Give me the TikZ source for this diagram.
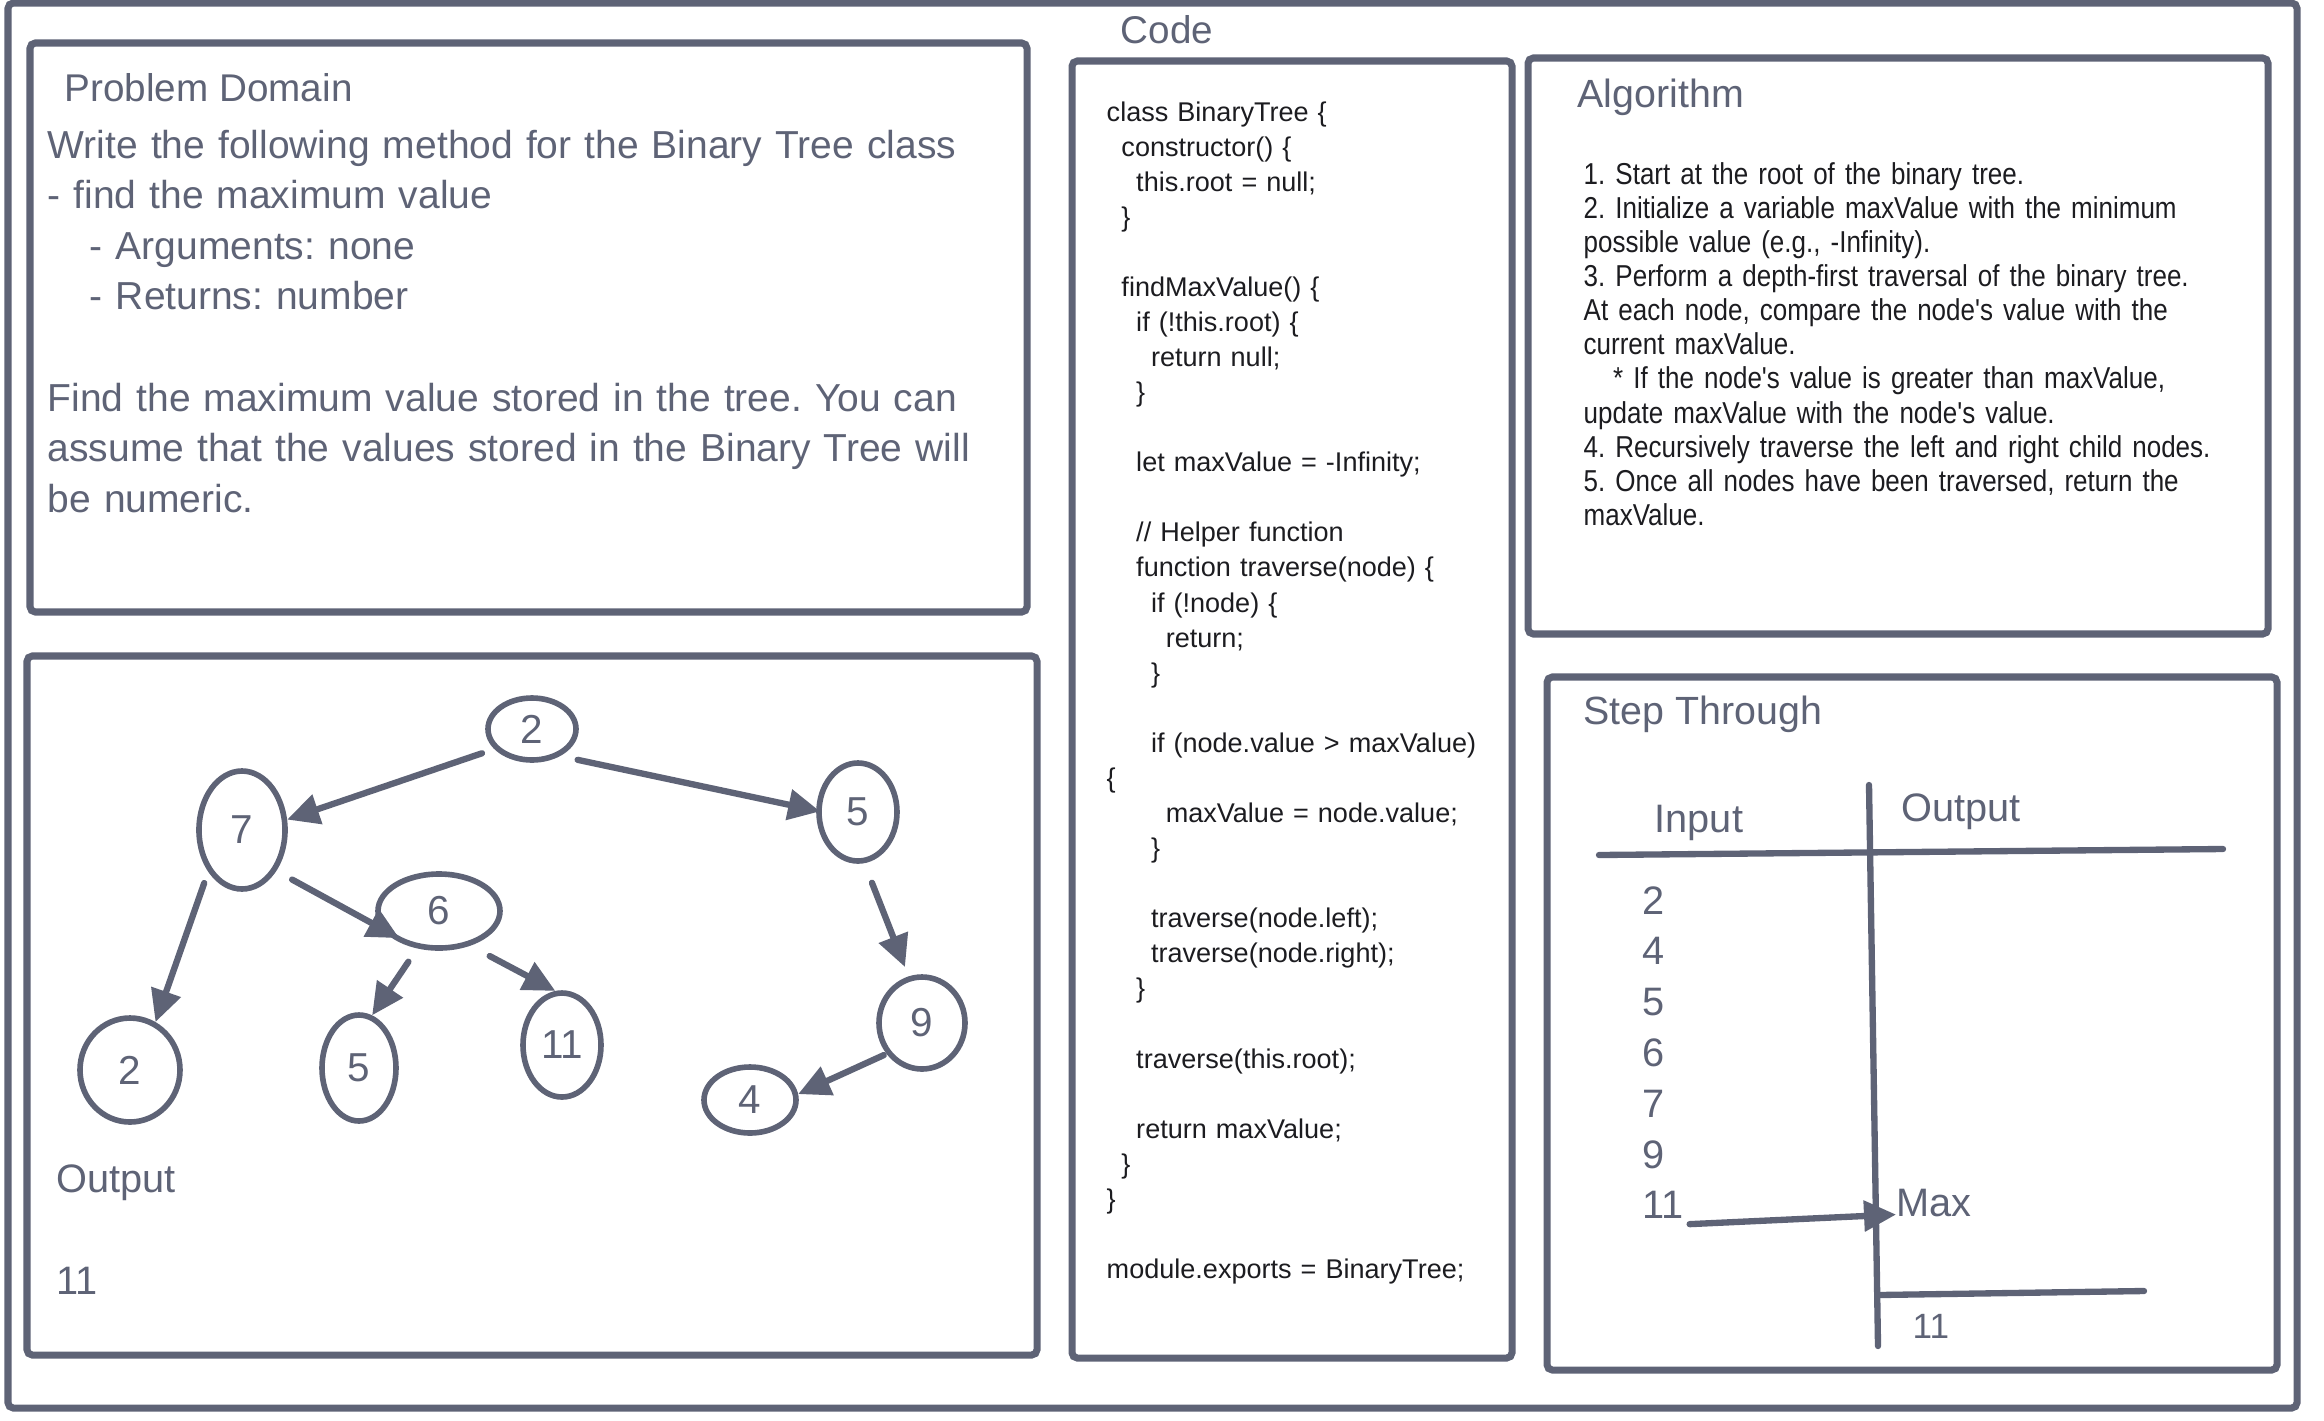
\documentclass[tikz,border=0pt]{standalone}
\usepackage{fontspec}
\setmainfont{Liberation Sans}
\newfontfamily\narrowfont[FakeStretch=0.86]{Liberation Sans}
\usepackage{xcolor}
\usetikzlibrary{arrows.meta,positioning,shapes.geometric}
\definecolor{slate}{RGB}{94,99,118}
\definecolor{ink}{RGB}{28,28,32}
\newlength\indstep
\setlength\indstep{4.2pt}
\newcommand{\ind}[1]{\hspace*{#1\indstep}}
\tikzset{
  panel/.style={draw=slate, line width=2pt, rounded corners=1.5pt},
  head/.style={anchor=base west, inner sep=0pt, text=slate, font=\fontsize{11}{13}\selectfont},
  body/.style={anchor=base west, inner sep=0pt, align=left},
  tnode/.style={ellipse, draw=slate, line width=1.6pt, inner sep=0pt, text=slate,
                font=\fontsize{11.5}{13}\selectfont},
  flow/.style={-{Triangle[length=3.2mm,width=3mm]}, draw=slate, line width=1.8pt, line cap=round},
  rule/.style={draw=slate, line width=1.8pt, line cap=round},
  stepnum/.style={anchor=base west, inner sep=0pt, text=slate, font=\fontsize{11.3}{13}\selectfont},
}
\frenchspacing

\begin{document}
\begin{tikzpicture}
  \useasboundingbox (0,0) rectangle (23.24,-14.20);
  % frames
  \draw[panel] (0.08,-0.03) rectangle (22.97,-14.08);
  \draw[panel] (0.30,-0.43) rectangle (10.27,-6.12);
  \draw[panel] (0.27,-6.56) rectangle (10.37,-13.55);
  \draw[panel] (10.72,-0.61) rectangle (15.12,-13.58);
  \draw[panel] (15.28,-0.58) rectangle (22.68,-6.34);
  \draw[panel] (15.47,-6.77) rectangle (22.77,-13.70);

  % problem domain
  \node[head] (pdtitle) at (0.64,-1.01) {Problem Domain};
  \node[body, text width=9.7cm, text=slate, font=\fontsize{11.1}{14.4}\selectfont] (pdtext) at (0.47,-1.58)
    {Write the following method for the Binary Tree class\\
     - find the maximum value\\
     \hspace*{12pt}- Arguments: none\\
     \hspace*{12pt}- Returns: number\\
     \mbox{}\\
     Find the maximum value stored in the tree. You can\\
     assume that the values stored in the Binary Tree will\\
     be numeric.};

  % code
  \node[head] (codetitle) at (11.20,-0.43) {Code};
  \node[body, text width=4.2cm, text=ink, font=\fontsize{7.7}{9.98}\selectfont] (code) at (11.06,-1.21)
    {class BinaryTree \{\\
     \ind{1}constructor() \{\\
     \ind{2}this.root = null;\\
     \ind{1}\}\\
     \mbox{}\\
     \ind{1}findMaxValue() \{\\
     \ind{2}if (!this.root) \{\\
     \ind{3}return null;\\
     \ind{2}\}\\
     \mbox{}\\
     \ind{2}let maxValue = -Infinity;\\
     \mbox{}\\
     \ind{2}// Helper function\\
     \ind{2}function traverse(node) \{\\
     \ind{3}if (!node) \{\\
     \ind{4}return;\\
     \ind{3}\}\\
     \mbox{}\\
     \ind{3}if (node.value > maxValue)\\
     \{\\
     \ind{4}maxValue = node.value;\\
     \ind{3}\}\\
     \mbox{}\\
     \ind{3}traverse(node.left);\\
     \ind{3}traverse(node.right);\\
     \ind{2}\}\\
     \mbox{}\\
     \ind{2}traverse(this.root);\\
     \mbox{}\\
     \ind{2}return maxValue;\\
     \ind{1}\}\\
     \}\\
     \mbox{}\\
     module.exports = BinaryTree;};

  % algorithm
  \node[head, font=\fontsize{11.2}{13}\selectfont] (algtitle) at (15.77,-1.07) {Algorithm};
  \node[body, text width=6.8cm, text=ink, font=\narrowfont\fontsize{8.6}{9.72}\selectfont] (alg) at (15.83,-1.84)
    {1. Start at the root of the binary tree.\\
     2. Initialize a variable maxValue with the minimum\\
     possible value (e.g., -Infinity).\\
     3. Perform a depth-first traversal of the binary tree.\\
     At each node, compare the node's value with the\\
     current maxValue.\\
     \hspace*{8.4pt}* If the node's value is greater than maxValue,\\
     update maxValue with the node's value.\\
     4. Recursively traverse the left and right child nodes.\\
     5. Once all nodes have been traversed, return the\\
     maxValue.};

  % tree
  \node[tnode, minimum width=0.88cm, minimum height=0.62cm] (r2) at (5.32,-7.29) {2};
  \node[tnode, minimum width=0.86cm, minimum height=1.18cm] (n7) at (2.42,-8.30) {7};
  \node[tnode, minimum width=0.78cm, minimum height=0.98cm] (n5r) at (8.58,-8.12) {5};
  \node[tnode, minimum width=1.22cm, minimum height=0.74cm] (n6) at (4.39,-9.11) {6};
  \node[tnode, minimum width=1.00cm, minimum height=1.04cm] (n2l) at (1.30,-10.70) {2};
  \node[tnode, minimum width=0.74cm, minimum height=1.06cm] (n5l) at (3.59,-10.68) {5};
  \node[tnode, minimum width=0.78cm, minimum height=1.04cm] (n11) at (5.62,-10.45) {11};
  \node[tnode, minimum width=0.86cm, minimum height=0.92cm] (n9) at (9.22,-10.23) {9};
  \node[tnode, minimum width=0.92cm, minimum height=0.66cm] (n4) at (7.50,-11.00) {4};

  \draw[flow, shorten <=1.3mm] (r2.208) -- (n7.13);
  \draw[flow, shorten <=1.8mm, shorten >=-0.4mm] (r2.316) -- (n5r.178);
  \draw[flow, shorten <=1.8mm, shorten >=-2mm] (n7.310) -- (n6.197);
  \draw[flow, shorten <=1.2mm] (n7.231) -- (n2l.62);
  \draw[flow, shorten <=1.6mm] (n6.240) -- (n5l.76);
  \draw[flow, shorten <=2.2mm] (n6.312) -- (n11.97);
  \draw[flow, shorten <=2.1mm, shorten >=1mm] (n5r.277) -- (n9.106);
  \draw[flow, shorten <=0.3mm] (n9.221) -- (n4.7);

  \node[stepnum] (treeout) at (0.56,-11.92) {Output};
  \node[stepnum] (treeval) at (0.56,-12.94) {11};

  % step through
  \node[head, font=\fontsize{11.2}{13}\selectfont] (steptitle) at (15.83,-7.24) {Step Through};
  \node[stepnum] (inhead) at (16.54,-8.32) {Input};
  \node[stepnum] (outhead) at (19.01,-8.21) {Output};
  \draw[rule] (18.69,-7.85) -- (18.78,-13.46);
  \draw[rule] (15.99,-8.55) -- (22.23,-8.49);
  \draw[rule] (18.79,-12.95) -- (21.44,-12.91);
  \foreach \v [count=\i] in {2,4,5,6,7,9,11}
    \node[stepnum] (in\i) at (16.42,{-9.14-(\i-1)*0.508}) {\v};
  \node[stepnum] (max) at (18.96,-12.16) {Max};
  \node[stepnum, font=\fontsize{10}{12}\selectfont] (outval) at (19.12,-13.38) {11};
  \draw[flow] ([xshift=0.5mm,yshift=-1.9mm]in7.east) -- ([yshift=-1.2mm]max.west);
\end{tikzpicture}
\end{document}
